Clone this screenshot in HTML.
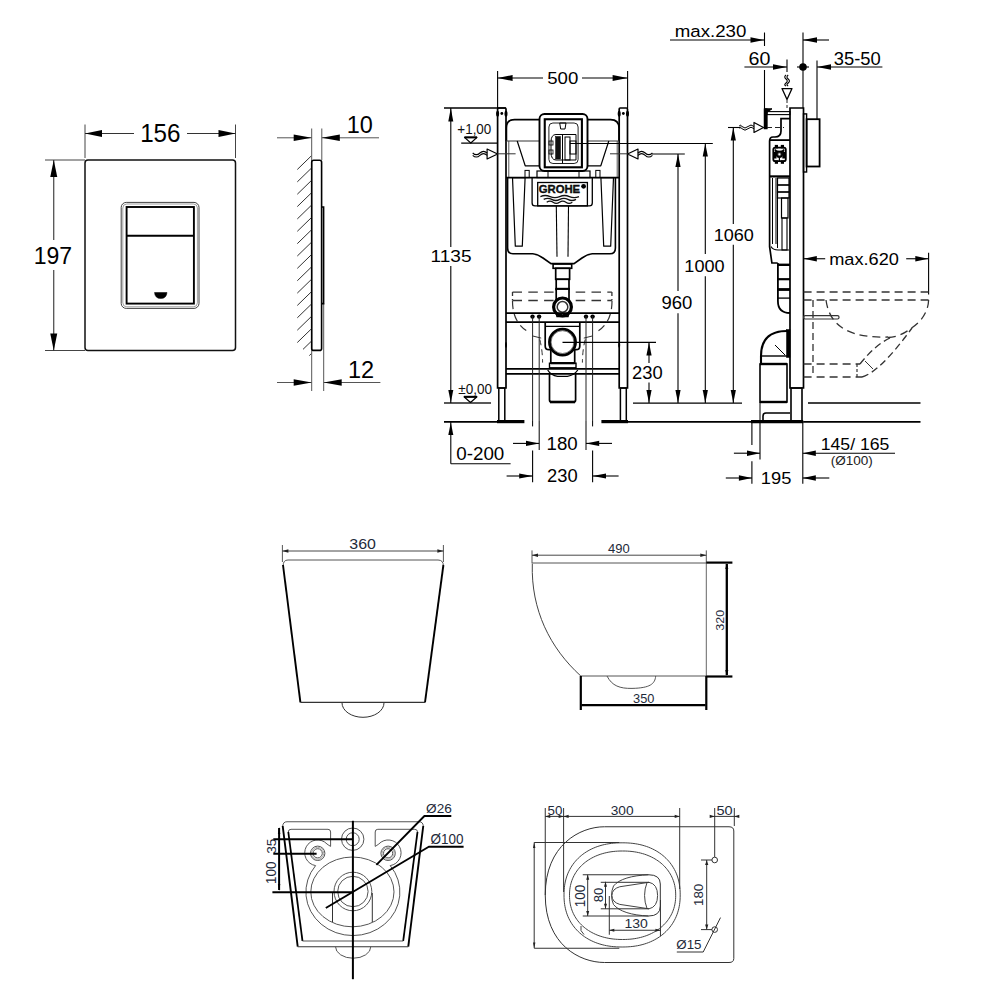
<!DOCTYPE html>
<html><head><meta charset="utf-8"><style>
html,body{margin:0;padding:0;background:#fff;width:1000px;height:1000px;overflow:hidden}
svg{display:block}
text{font-family:"Liberation Sans",sans-serif}
</style></head><body>
<svg width="1000" height="1000" viewBox="0 0 1000 1000">
<rect x="85" y="160" width="150.5" height="190.5" rx="3" stroke="#111" stroke-width="1.5" fill="none" />
<rect x="121.2" y="202.4" width="77.8" height="106" rx="5" stroke="#444" stroke-width="1" fill="none" />
<rect x="122.8" y="204" width="74.6" height="102.8" rx="4" stroke="#777" stroke-width="0.7" fill="none" />
<rect x="126.6" y="207" width="67.3" height="96.6" rx="0" stroke="#000" stroke-width="1.9" fill="none" />
<line x1="126.6" y1="235.8" x2="193.9" y2="235.8" stroke="#000" stroke-width="2" />
<path d="M154.5,292.5 L167,292.5 Q166.5,298.5 160.7,298.5 Q155,298.5 154.5,292.5 Z" stroke="#000" stroke-width="0.5" fill="#000" />
<line x1="85" y1="124.5" x2="85" y2="158" stroke="#444" stroke-width="1" />
<line x1="235.5" y1="124.5" x2="235.5" y2="158" stroke="#444" stroke-width="1" />
<line x1="85" y1="133.5" x2="134" y2="133.5" stroke="#333" stroke-width="1.1" />
<line x1="187" y1="133.5" x2="235.5" y2="133.5" stroke="#333" stroke-width="1.1" />
<polygon points="85.00,133.50 102.00,130.00 102.00,137.00" fill="#000"/>
<polygon points="235.50,133.50 218.50,130.00 218.50,137.00" fill="#000"/>
<text x="140.16" y="141.58" font-size="24.86" textLength="40.41" lengthAdjust="spacingAndGlyphs" fill="#000" >156</text>
<line x1="45" y1="160" x2="85" y2="160" stroke="#444" stroke-width="1" />
<line x1="45" y1="350.5" x2="85" y2="350.5" stroke="#444" stroke-width="1" />
<line x1="53.75" y1="160" x2="53.75" y2="240" stroke="#333" stroke-width="1.1" />
<line x1="53.75" y1="270" x2="53.75" y2="350.5" stroke="#333" stroke-width="1.1" />
<polygon points="53.75,160.00 50.25,177.00 57.25,177.00" fill="#000"/>
<polygon points="53.75,350.50 50.25,333.50 57.25,333.50" fill="#000"/>
<text x="33.75" y="263.68" font-size="24.71" textLength="38.41" lengthAdjust="spacingAndGlyphs" fill="#000" >197</text>
<line x1="311.7" y1="128.5" x2="311.7" y2="391" stroke="#555" stroke-width="1" />
<line x1="321.8" y1="128.5" x2="321.8" y2="160" stroke="#555" stroke-width="1" />
<line x1="323.7" y1="303" x2="323.7" y2="391" stroke="#555" stroke-width="1" />
<rect x="311.7" y="160.3" width="9.9" height="190.1" rx="2" stroke="#000" stroke-width="1.6" fill="none" />
<path d="M321.8,207 L323.6,207 L323.6,303.6 L321.8,303.6" stroke="#000" stroke-width="1.6" fill="none" />
<line x1="297.3" y1="169.5" x2="311.2" y2="156" stroke="#333" stroke-width="1" />
<line x1="297.3" y1="181.86" x2="311.2" y2="168.36" stroke="#333" stroke-width="1" />
<line x1="297.3" y1="194.22" x2="311.2" y2="180.72" stroke="#333" stroke-width="1" />
<line x1="297.3" y1="206.58" x2="311.2" y2="193.08" stroke="#333" stroke-width="1" />
<line x1="297.3" y1="218.94" x2="311.2" y2="205.44" stroke="#333" stroke-width="1" />
<line x1="297.3" y1="231.3" x2="311.2" y2="217.8" stroke="#333" stroke-width="1" />
<line x1="297.3" y1="243.66" x2="311.2" y2="230.16" stroke="#333" stroke-width="1" />
<line x1="297.3" y1="256.02" x2="311.2" y2="242.52" stroke="#333" stroke-width="1" />
<line x1="297.3" y1="268.38" x2="311.2" y2="254.88" stroke="#333" stroke-width="1" />
<line x1="297.3" y1="280.74" x2="311.2" y2="267.24" stroke="#333" stroke-width="1" />
<line x1="297.3" y1="293.1" x2="311.2" y2="279.6" stroke="#333" stroke-width="1" />
<line x1="297.3" y1="305.46" x2="311.2" y2="291.96" stroke="#333" stroke-width="1" />
<line x1="297.3" y1="317.82" x2="311.2" y2="304.32" stroke="#333" stroke-width="1" />
<line x1="297.3" y1="330.18" x2="311.2" y2="316.68" stroke="#333" stroke-width="1" />
<line x1="297.3" y1="342.54" x2="311.2" y2="329.04" stroke="#333" stroke-width="1" />
<line x1="303" y1="349.36" x2="311.2" y2="341.4" stroke="#333" stroke-width="1" />
<line x1="309.3" y1="355.61" x2="311.2" y2="353.76" stroke="#333" stroke-width="1" />
<line x1="277" y1="137.8" x2="311.7" y2="137.8" stroke="#555" stroke-width="1" />
<polygon points="311.70,137.80 293.70,134.50 293.70,141.10" fill="#000"/>
<line x1="321.8" y1="137.8" x2="379" y2="137.8" stroke="#555" stroke-width="1" />
<polygon points="321.80,137.80 339.80,134.50 339.80,141.10" fill="#000"/>
<text x="346.81" y="133.28" font-size="24.00" textLength="26.10" lengthAdjust="spacingAndGlyphs" fill="#000" >10</text>
<line x1="277" y1="382.5" x2="311.7" y2="382.5" stroke="#555" stroke-width="1" />
<polygon points="311.70,382.50 293.70,379.20 293.70,385.80" fill="#000"/>
<line x1="323.7" y1="382.5" x2="380.4" y2="382.5" stroke="#555" stroke-width="1" />
<polygon points="323.70,382.50 341.70,379.20 341.70,385.80" fill="#000"/>
<text x="348.01" y="377.88" font-size="24.29" textLength="26.18" lengthAdjust="spacingAndGlyphs" fill="#000" >12</text>
<path d="M497.6,388 V109 Q497.6,108 498.6,108 H505 Q506,108 506,109 V388 Z" stroke="#000" stroke-width="1.7" fill="none" />
<rect x="498.8" y="388" width="6" height="33" rx="0" stroke="#000" stroke-width="1.5" fill="none" />
<circle cx="501.8" cy="113.5" r="1.4" stroke="#000" stroke-width="0" fill="#000" />
<ellipse cx="497.6" cy="113.8" rx="1.5" ry="3" stroke="#000" stroke-width="0" fill="#000" />
<ellipse cx="506" cy="113.8" rx="1.5" ry="3" stroke="#000" stroke-width="0" fill="#000" />
<ellipse cx="506" cy="345" rx="1" ry="3" stroke="#000" stroke-width="0" fill="#000" />
<path d="M619.2,388 V109 Q619.2,108 620.2,108 H626.5 Q627.5,108 627.5,109 V388 Z" stroke="#000" stroke-width="1.7" fill="none" />
<rect x="620.4" y="388" width="5.9" height="33" rx="0" stroke="#000" stroke-width="1.5" fill="none" />
<circle cx="623.35" cy="113.5" r="1.4" stroke="#000" stroke-width="0" fill="#000" />
<ellipse cx="619.2" cy="113.8" rx="1.5" ry="3" stroke="#000" stroke-width="0" fill="#000" />
<ellipse cx="627.5" cy="113.8" rx="1.5" ry="3" stroke="#000" stroke-width="0" fill="#000" />
<ellipse cx="619.2" cy="345" rx="1" ry="3" stroke="#000" stroke-width="0" fill="#000" />
<path d="M506.4,141 V128 Q506.4,119.6 514.5,119.6 H539.5" stroke="#000" stroke-width="1.7" fill="none" />
<path d="M587.5,119.6 H610.5 Q619,119.6 619,128 V141" stroke="#000" stroke-width="1.7" fill="none" />
<line x1="506" y1="141" x2="539.5" y2="141" stroke="#333" stroke-width="1" />
<line x1="587.5" y1="141" x2="619" y2="141" stroke="#333" stroke-width="1" />
<polyline points="517.2,141 525.2,165.8 539.5,165.8" stroke="#000" stroke-width="1.2" fill="none" stroke-linejoin="round" />
<polyline points="608.8,141 600.8,165.8 587.5,165.8" stroke="#000" stroke-width="1.2" fill="none" stroke-linejoin="round" />
<line x1="508.8" y1="141" x2="508.8" y2="177" stroke="#444" stroke-width="0.9" />
<line x1="617.2" y1="141" x2="617.2" y2="177" stroke="#444" stroke-width="0.9" />
<rect x="525" y="170.4" width="4.2" height="7.2" rx="0" stroke="#000" stroke-width="1" fill="none" />
<rect x="595.8" y="170.4" width="4.2" height="7.2" rx="0" stroke="#000" stroke-width="1" fill="none" />
<rect x="539.5" y="114" width="48" height="57" rx="5" stroke="#000" stroke-width="1.9" fill="none" />
<rect x="544.75" y="119.25" width="37.15" height="48.05" rx="0" stroke="#000" stroke-width="2.1" fill="none" />
<rect x="548.9" y="123" width="29.2" height="40.5" rx="4" stroke="#222" stroke-width="1" fill="none" />
<polygon points="559.7,123 566,123 565,129 560.7,129" stroke="#000" stroke-width="1" fill="none" stroke-linejoin="round" />
<path d="M556,134.5 H576 V160 H556 Q551,160 551,152 V142 Q551,134.5 556,134.5 Z" stroke="#000" stroke-width="1" fill="none" />
<rect x="555.6" y="136.5" width="4.9" height="22.5" rx="0" stroke="#000" stroke-width="0.5" fill="#111" />
<line x1="562.5" y1="134.5" x2="562.5" y2="163.5" stroke="#000" stroke-width="1" />
<rect x="565" y="137" width="5" height="23" rx="0" stroke="#000" stroke-width="1" fill="none" />
<rect x="570" y="141" width="6" height="13" rx="0" stroke="#000" stroke-width="1" fill="none" />
<rect x="549" y="141" width="4" height="4" rx="0" stroke="#000" stroke-width="0.8" fill="none" />
<rect x="549" y="150" width="4" height="4" rx="0" stroke="#000" stroke-width="0.8" fill="none" />
<rect x="537" y="171" width="53" height="6.6" rx="0" stroke="#000" stroke-width="1.2" fill="none" />
<line x1="548" y1="171" x2="548" y2="177.6" stroke="#000" stroke-width="1" />
<line x1="579" y1="171" x2="579" y2="177.6" stroke="#000" stroke-width="1" />
<line x1="506" y1="177.6" x2="619" y2="177.6" stroke="#000" stroke-width="1.7" />
<path d="M507.6,177.6 V248 Q507.6,253.8 513,253.8 H532.8 Q538,254.5 543,258 L551,263.6 H574 L582,258 Q587,254.5 592.2,253.8 H610 Q615.4,253.8 615.4,248 V177.6" stroke="#000" stroke-width="1.6" fill="none" />
<polygon points="512.5,177.6 515.3,246.2 522.3,246.2 525.1,177.6" stroke="#000" stroke-width="1.2" fill="none" stroke-linejoin="round" />
<polygon points="600.9,177.6 603.7,246.2 610.7,246.2 613.5,177.6" stroke="#000" stroke-width="1.2" fill="none" stroke-linejoin="round" />
<path d="M532.1,177.6 V203 Q532.1,205.9 535,205.9 H589.4 Q592.3,205.9 592.3,203 V177.6" stroke="#000" stroke-width="1.3" fill="none" />
<rect x="537.7" y="182.5" width="49.7" height="23.4" rx="0" stroke="#000" stroke-width="1.3" fill="none" />
<text x="538.73" y="193.45" font-size="10.97" textLength="41.45" lengthAdjust="spacingAndGlyphs" fill="#111" font-weight="bold" stroke="#000" stroke-width="0.35">GROHE</text>
<circle cx="583.6" cy="186.3" r="2.4" stroke="#000" stroke-width="0" fill="#000" />
<path d="M540.4,196.6 q4.825000000000003,-2.2 9.650000000000006,0 t9.650000000000006,0 t9.650000000000006,0 t9.650000000000006,0" stroke="#111" stroke-width="1.3" fill="none" />
<path d="M543.7,199.4 q4.037499999999994,-2.2 8.074999999999989,0 t8.074999999999989,0 t8.074999999999989,0 t8.074999999999989,0" stroke="#111" stroke-width="1.3" fill="none" />
<path d="M546.7,202.2 q3.1999999999999886,-2.2 6.399999999999977,0 t6.399999999999977,0 t6.399999999999977,0 t6.399999999999977,0" stroke="#111" stroke-width="1.3" fill="none" />
<line x1="556.3" y1="205.9" x2="557" y2="256.7" stroke="#000" stroke-width="1.1" />
<line x1="568.5" y1="205.9" x2="568" y2="256.7" stroke="#000" stroke-width="1.1" />
<line x1="512.5" y1="292.1" x2="611.9" y2="292.1" stroke="#333" stroke-width="1.3" stroke-dasharray="9.5 6.3" />
<line x1="512.5" y1="300.5" x2="611.9" y2="300.5" stroke="#333" stroke-width="1.3" stroke-dasharray="9.5 6.3" />
<line x1="512.5" y1="292.1" x2="512.5" y2="300.5" stroke="#333" stroke-width="1.3" stroke-dasharray="4 3" />
<line x1="611.9" y1="292.1" x2="611.9" y2="300.5" stroke="#333" stroke-width="1.3" stroke-dasharray="4 3" />
<path d="M512.5,301 Q512.5,322 527,331" stroke="#333" stroke-width="1.2" fill="none" stroke-dasharray="8 5"/>
<path d="M612,301 Q612,322 598,331" stroke="#333" stroke-width="1.2" fill="none" stroke-dasharray="8 5"/>
<line x1="532.8" y1="336" x2="541.2" y2="338.1" stroke="#333" stroke-width="1" />
<line x1="592.2" y1="336" x2="583.8" y2="338.1" stroke="#333" stroke-width="1" />
<path d="M539.8,339.5 Q542.5,350 542.6,362.6" stroke="#333" stroke-width="1" fill="none" stroke-dasharray="6 4"/>
<path d="M585.2,339.5 Q582.5,350 582.4,362.6" stroke="#333" stroke-width="1" fill="none" stroke-dasharray="6 4"/>
<rect x="553.1" y="264.1" width="18.6" height="4.2" rx="0" stroke="#000" stroke-width="1.6" fill="#fff" />
<rect x="555.7" y="268.3" width="13.9" height="11" rx="0" stroke="#000" stroke-width="1.7" fill="#fff" />
<rect x="556.2" y="279.3" width="12.8" height="9.8" rx="0" stroke="#000" stroke-width="1.7" fill="#fff" />
<line x1="555.5" y1="289.1" x2="569.6" y2="289.1" stroke="#000" stroke-width="2.6" />
<rect x="556.2" y="289.1" width="12.8" height="10.9" rx="0" stroke="#000" stroke-width="1.7" fill="#fff" />
<path d="M556.2,313 L557,316.4 H568 L568.8,313" stroke="#000" stroke-width="1.5" fill="#fff" />
<circle cx="562.5" cy="306.9" r="8.9" stroke="#000" stroke-width="3.2" fill="#fff" />
<circle cx="562.5" cy="306.9" r="5.3" stroke="#333" stroke-width="1.5" fill="#fff" />
<line x1="506" y1="313.1" x2="619" y2="313.1" stroke="#000" stroke-width="1.7" />
<line x1="506" y1="322.2" x2="619" y2="322.2" stroke="#000" stroke-width="1.7" />
<line x1="506" y1="368.9" x2="619" y2="368.9" stroke="#000" stroke-width="1.7" />
<line x1="506" y1="373.8" x2="619" y2="373.8" stroke="#000" stroke-width="1.7" />
<circle cx="532.5" cy="316.6" r="2.2" stroke="#000" stroke-width="0" fill="#000" />
<circle cx="539.1" cy="316.6" r="2.2" stroke="#000" stroke-width="0" fill="#000" />
<circle cx="586" cy="316.6" r="2.2" stroke="#000" stroke-width="0" fill="#000" />
<circle cx="592.6" cy="316.6" r="2.2" stroke="#000" stroke-width="0" fill="#000" />
<line x1="532.6" y1="316" x2="532.6" y2="421" stroke="#222" stroke-width="1" />
<line x1="539.2" y1="316" x2="539.2" y2="421" stroke="#222" stroke-width="1" />
<line x1="586" y1="316" x2="586" y2="421" stroke="#222" stroke-width="1" />
<line x1="592.6" y1="316" x2="592.6" y2="421" stroke="#222" stroke-width="1" />
<path d="M545.2,322.5 V346 Q545.2,349.7 549,349.7 H551 M579.8,322.5 V346 Q579.8,349.7 576,349.7 H574.5" stroke="#000" stroke-width="1.7" fill="none" />
<line x1="545.2" y1="326.3" x2="579.8" y2="326.3" stroke="#000" stroke-width="1.2" />
<path d="M550.8,349 V363.2 H574.7 V349" stroke="#000" stroke-width="1.7" fill="none" />
<line x1="550.8" y1="363.2" x2="574.7" y2="363.2" stroke="#000" stroke-width="2.2" />
<rect x="549.5" y="363.2" width="26.5" height="4.6" rx="0" stroke="#000" stroke-width="1.4" fill="none" />
<path d="M547.7,370 Q551,375.5 557.6,376.3 H567.4 Q574,375.5 577.8,370" stroke="#000" stroke-width="1.3" fill="none" />
<circle cx="562.5" cy="342.1" r="13" stroke="#000" stroke-width="2.9" fill="#fff" />
<circle cx="562.5" cy="342.1" r="11.4" stroke="#555" stroke-width="0.8" fill="none" />
<path d="M549.5,374 V400 Q549.5,402 551.5,402 H573.6 Q575.6,402 575.6,400 V374" stroke="#000" stroke-width="1.7" fill="none" />
<line x1="550" y1="402" x2="575" y2="402" stroke="#000" stroke-width="2.6" />
<line x1="444" y1="421.8" x2="497" y2="421.8" stroke="#000" stroke-width="1.8" />
<line x1="497" y1="421.6" x2="524.4" y2="421.6" stroke="#000" stroke-width="3.2" />
<line x1="601.4" y1="421.6" x2="628" y2="421.6" stroke="#000" stroke-width="3.2" />
<line x1="628" y1="421.8" x2="751" y2="421.8" stroke="#000" stroke-width="1.8" />
<line x1="751" y1="421.6" x2="803.2" y2="421.6" stroke="#000" stroke-width="3.2" />
<line x1="803.2" y1="421.8" x2="920.5" y2="421.8" stroke="#000" stroke-width="1.8" />
<line x1="444" y1="403" x2="491" y2="403" stroke="#222" stroke-width="1.3" />
<line x1="633" y1="403.2" x2="742" y2="403.2" stroke="#000" stroke-width="1.3" />
<line x1="808" y1="403" x2="920.5" y2="403" stroke="#000" stroke-width="1.3" />
<line x1="497.6" y1="71" x2="497.6" y2="108" stroke="#000" stroke-width="1.1" />
<line x1="627.6" y1="71" x2="627.6" y2="108" stroke="#000" stroke-width="1.1" />
<line x1="497.6" y1="78" x2="543" y2="78" stroke="#000" stroke-width="1.1" />
<line x1="582" y1="78" x2="627.6" y2="78" stroke="#000" stroke-width="1.1" />
<polygon points="497.60,78.00 512.60,75.00 512.60,81.00" fill="#000"/>
<polygon points="627.60,78.00 612.60,75.00 612.60,81.00" fill="#000"/>
<text x="547.25" y="84.31" font-size="17.14" textLength="31.07" lengthAdjust="spacingAndGlyphs" fill="#000" >500</text>
<line x1="444" y1="108" x2="506" y2="108" stroke="#000" stroke-width="1.3" />
<line x1="450.8" y1="108" x2="450.8" y2="247" stroke="#000" stroke-width="1.1" />
<line x1="450.8" y1="266" x2="450.8" y2="403" stroke="#000" stroke-width="1.1" />
<polygon points="450.80,108.00 448.30,121.60 453.30,121.60" fill="#000"/>
<polygon points="450.80,402.50 448.30,390.00 453.30,390.00" fill="#000"/>
<text x="430.60" y="261.91" font-size="17.14" textLength="40.98" lengthAdjust="spacingAndGlyphs" fill="#000" >1135</text>
<text x="457.34" y="134.33" font-size="13.91" textLength="33.98" lengthAdjust="spacingAndGlyphs" fill="#111" >+1,00</text>
<polygon points="464.5,137.4 477,137.4 470.8,143" stroke="#000" stroke-width="1.2" fill="none" stroke-linejoin="round" />
<line x1="464.5" y1="137.4" x2="477" y2="137.4" stroke="#000" stroke-width="2" />
<line x1="461.2" y1="143.2" x2="497.6" y2="143.2" stroke="#000" stroke-width="1.2" />
<text x="458.37" y="393.53" font-size="13.91" textLength="33.76" lengthAdjust="spacingAndGlyphs" fill="#111" >±0,00</text>
<polygon points="464,396.8 477,396.8 470.5,402.5" stroke="#000" stroke-width="1.2" fill="none" stroke-linejoin="round" />
<line x1="464" y1="396.8" x2="477" y2="396.8" stroke="#000" stroke-width="2" />
<line x1="450.8" y1="422" x2="450.8" y2="463.7" stroke="#000" stroke-width="1.1" />
<polygon points="450.80,422.50 448.30,435.00 453.30,435.00" fill="#000"/>
<line x1="450.8" y1="463.7" x2="510.6" y2="463.7" stroke="#000" stroke-width="1.1" />
<text x="456.27" y="460.41" font-size="17.86" textLength="48.07" lengthAdjust="spacingAndGlyphs" fill="#000" >0-200</text>
<line x1="513" y1="443.4" x2="539.2" y2="443.4" stroke="#000" stroke-width="1.1" />
<polygon points="539.20,443.40 526.00,440.80 526.00,446.00" fill="#000"/>
<line x1="586" y1="443.4" x2="612" y2="443.4" stroke="#000" stroke-width="1.1" />
<polygon points="586.00,443.40 599.20,440.80 599.20,446.00" fill="#000"/>
<text x="546.58" y="449.91" font-size="17.57" textLength="31.15" lengthAdjust="spacingAndGlyphs" fill="#000" >180</text>
<line x1="539.2" y1="421" x2="539.2" y2="450" stroke="#000" stroke-width="1" />
<line x1="586" y1="421" x2="586" y2="450" stroke="#000" stroke-width="1" />
<line x1="532.6" y1="421" x2="532.6" y2="426.4" stroke="#000" stroke-width="1" />
<line x1="592.6" y1="421" x2="592.6" y2="426.4" stroke="#000" stroke-width="1" />
<line x1="532.6" y1="450.4" x2="532.6" y2="482.2" stroke="#000" stroke-width="1.1" />
<line x1="592.6" y1="450.4" x2="592.6" y2="482.2" stroke="#000" stroke-width="1.1" />
<line x1="506.6" y1="476" x2="532.6" y2="476" stroke="#000" stroke-width="1.1" />
<polygon points="532.60,476.00 519.20,473.40 519.20,478.60" fill="#000"/>
<line x1="592.6" y1="476" x2="618.6" y2="476" stroke="#000" stroke-width="1.1" />
<polygon points="592.60,476.00 606.00,473.40 606.00,478.60" fill="#000"/>
<text x="547.08" y="482.31" font-size="17.71" textLength="30.64" lengthAdjust="spacingAndGlyphs" fill="#000" >230</text>
<polygon points="497.6,154 487.1,149 487.1,159" stroke="#000" stroke-width="1.2" fill="#fff" stroke-linejoin="round" />
<path d="M487.1,153 q-3.6,-3.4 -7.2,0 t-7.2,0 M487.1,155.3 q-3.6,-3.4 -7.2,0 t-7.2,0" stroke="#000" stroke-width="1.1" fill="none" />
<polygon points="627.5,154 638,149 638,159" stroke="#000" stroke-width="1.2" fill="#fff" stroke-linejoin="round" />
<path d="M638.0,153 q3.6,-3.4 7.2,0 t7.2,0 M638.0,155.3 q3.6,-3.4 7.2,0 t7.2,0" stroke="#000" stroke-width="1.1" fill="none" />
<line x1="497.6" y1="153.8" x2="515.6" y2="153.8" stroke="#333" stroke-width="1" />
<line x1="610" y1="153.8" x2="627.5" y2="153.8" stroke="#333" stroke-width="1" />
<line x1="562.5" y1="342.4" x2="656" y2="342.4" stroke="#000" stroke-width="1.1" />
<line x1="649" y1="342.4" x2="649" y2="363" stroke="#000" stroke-width="1.1" />
<line x1="649" y1="382.5" x2="649" y2="403" stroke="#000" stroke-width="1.1" />
<polygon points="649.00,342.40 646.40,355.40 651.60,355.40" fill="#000"/>
<polygon points="649.00,403.00 646.40,390.00 651.60,390.00" fill="#000"/>
<text x="632.08" y="379.31" font-size="18.57" textLength="30.64" lengthAdjust="spacingAndGlyphs" fill="#000" >230</text>
<line x1="652" y1="154" x2="684.8" y2="154" stroke="#000" stroke-width="1.1" />
<line x1="678" y1="154" x2="678" y2="291" stroke="#000" stroke-width="1.1" />
<line x1="678" y1="313.3" x2="678" y2="403" stroke="#000" stroke-width="1.1" />
<polygon points="678.00,154.00 675.40,167.00 680.60,167.00" fill="#000"/>
<polygon points="678.00,403.00 675.40,390.00 680.60,390.00" fill="#000"/>
<text x="661.43" y="308.81" font-size="18.57" textLength="30.89" lengthAdjust="spacingAndGlyphs" fill="#000" >960</text>
<line x1="570" y1="143.5" x2="712.8" y2="143.5" stroke="#000" stroke-width="1.1" />
<line x1="705.3" y1="143.5" x2="705.3" y2="254" stroke="#000" stroke-width="1.1" />
<line x1="705.3" y1="276.3" x2="705.3" y2="403" stroke="#000" stroke-width="1.1" />
<polygon points="705.30,143.50 702.70,156.50 707.90,156.50" fill="#000"/>
<polygon points="705.30,403.00 702.70,390.00 707.90,390.00" fill="#000"/>
<text x="684.37" y="271.82" font-size="16.71" textLength="40.23" lengthAdjust="spacingAndGlyphs" fill="#000" >1000</text>
<line x1="728" y1="127.5" x2="740" y2="127.5" stroke="#000" stroke-width="1.1" />
<line x1="733.3" y1="127.5" x2="733.3" y2="223.9" stroke="#000" stroke-width="1.1" />
<line x1="733.3" y1="244.8" x2="733.3" y2="403" stroke="#000" stroke-width="1.1" />
<polygon points="733.30,127.50 730.70,140.50 735.90,140.50" fill="#000"/>
<polygon points="733.30,403.00 730.70,390.00 735.90,390.00" fill="#000"/>
<text x="713.72" y="240.82" font-size="16.43" textLength="40.18" lengthAdjust="spacingAndGlyphs" fill="#000" >1060</text>
<path d="M790,388 V108 H803.5 V388 Z" stroke="#000" stroke-width="1.7" fill="none" />
<rect x="791" y="388" width="11" height="33" rx="0" stroke="#000" stroke-width="1.6" fill="none" />
<rect x="803.5" y="113.9" width="3.1" height="58.1" rx="0" stroke="#000" stroke-width="1.4" fill="none" />
<rect x="806.6" y="119.2" width="13" height="47.3" rx="0" stroke="#000" stroke-width="1.8" fill="none" />
<path d="M790,118.6 H781 V131 Q781,137 775,137 H773 Q769.6,137 769.6,141 V246.7 L771.9,263 H777.7" stroke="#000" stroke-width="1.7" fill="none" />
<line x1="769.6" y1="140.1" x2="790" y2="140.1" stroke="#000" stroke-width="1.8" />
<line x1="769.6" y1="176.4" x2="790" y2="176.4" stroke="#000" stroke-width="2.2" />
<rect x="773.3" y="147.6" width="12.5" height="13.6" rx="2" stroke="#000" stroke-width="1.8" fill="none" />
<rect x="774.8" y="144.9" width="3.2" height="3.5" rx="0" stroke="#000" stroke-width="0" fill="#000" />
<rect x="774.8" y="160.4" width="3.2" height="3.4" rx="0" stroke="#000" stroke-width="0" fill="#000" />
<rect x="780.8" y="144.9" width="3.2" height="3.5" rx="0" stroke="#000" stroke-width="0" fill="#000" />
<rect x="780.8" y="160.4" width="3.2" height="3.4" rx="0" stroke="#000" stroke-width="0" fill="#000" />
<path d="M775,149.5 Q779.4,153 784,149.5 L784,151.5 Q779.4,155 775,151.5 Z" stroke="#000" stroke-width="0.8" fill="#000" />
<rect x="773.8" y="152" width="2.7" height="6.5" rx="0" stroke="#000" stroke-width="0" fill="#000" />
<rect x="782.3" y="152" width="2.7" height="6.5" rx="0" stroke="#000" stroke-width="0" fill="#000" />
<circle cx="779.4" cy="154.3" r="2.8" stroke="#000" stroke-width="1.6" fill="#444" />
<circle cx="779.4" cy="154.3" r="1.1" stroke="#000" stroke-width="0" fill="#fff" />
<line x1="779.4" y1="157" x2="779.4" y2="161" stroke="#000" stroke-width="1.2" />
<line x1="772.5" y1="178" x2="772.5" y2="244" stroke="#000" stroke-width="1" />
<line x1="776" y1="178" x2="776" y2="244" stroke="#000" stroke-width="1" />
<rect x="777.5" y="178" width="11.5" height="7" rx="0" stroke="#000" stroke-width="1.2" fill="none" />
<rect x="777.5" y="185" width="11.5" height="7" rx="0" stroke="#000" stroke-width="1.2" fill="none" />
<rect x="777.5" y="192" width="11.5" height="6" rx="0" stroke="#000" stroke-width="1.2" fill="none" />
<rect x="781.5" y="198" width="6.5" height="20" rx="0" stroke="#000" stroke-width="1.2" fill="none" />
<rect x="782" y="218" width="5" height="32" rx="0" stroke="#000" stroke-width="1.1" fill="none" />
<line x1="777.5" y1="198" x2="777.5" y2="248" stroke="#000" stroke-width="1" />
<path d="M771,246.5 Q773,250 778,250 H789" stroke="#000" stroke-width="1.2" fill="none" />
<path d="M777.9,263 V301 Q777.9,313 790,313" stroke="#000" stroke-width="1.8" fill="none" />
<line x1="777.9" y1="264.8" x2="790" y2="264.8" stroke="#000" stroke-width="2.4" />
<line x1="777.9" y1="279.2" x2="790" y2="279.2" stroke="#000" stroke-width="2.2" />
<line x1="777.9" y1="289.5" x2="790" y2="289.5" stroke="#000" stroke-width="2.8" />
<line x1="777.9" y1="298.1" x2="790" y2="298.1" stroke="#000" stroke-width="1.3" />
<path d="M761,364 V356 Q761,331 787,331" stroke="#000" stroke-width="2.1" fill="none" />
<line x1="761" y1="356" x2="787" y2="356" stroke="#000" stroke-width="1.4" />
<line x1="775" y1="345" x2="785" y2="355" stroke="#000" stroke-width="1" />
<rect x="786.5" y="329.5" width="3.5" height="28" rx="0" stroke="#000" stroke-width="0.5" fill="#000" />
<rect x="760" y="364" width="27" height="38" rx="0" stroke="#000" stroke-width="1.6" fill="none" />
<line x1="760" y1="364" x2="787" y2="364" stroke="#000" stroke-width="2.4" />
<line x1="760" y1="402" x2="787" y2="402" stroke="#000" stroke-width="2.4" />
<path d="M763,421 V416 Q763,413 766,413 H790" stroke="#000" stroke-width="1.6" fill="none" />
<line x1="760" y1="402" x2="760" y2="421" stroke="#000" stroke-width="1" />
<rect x="764" y="108.8" width="3.3" height="20.2" rx="0" stroke="#000" stroke-width="0.5" fill="#000" />
<path d="M764,108.8 H772 L767.5,112 Z" stroke="#000" stroke-width="1" fill="#000" />
<rect x="767" y="111.6" width="23" height="3" rx="0" stroke="#000" stroke-width="1.1" fill="none" />
<line x1="764.5" y1="32.5" x2="764.5" y2="46" stroke="#000" stroke-width="1.1" />
<line x1="764.5" y1="70" x2="764.5" y2="108.8" stroke="#000" stroke-width="1.1" />
<line x1="670" y1="40" x2="764.5" y2="40" stroke="#000" stroke-width="1.1" />
<polygon points="764.50,40.00 750.50,37.20 750.50,42.80" fill="#000"/>
<text x="674.76" y="36.91" font-size="17.14" textLength="71.57" lengthAdjust="spacingAndGlyphs" fill="#000" >max.230</text>
<line x1="803" y1="32.5" x2="803" y2="108" stroke="#000" stroke-width="1.1" />
<line x1="803" y1="40" x2="829" y2="40" stroke="#000" stroke-width="1.1" />
<polygon points="803.00,40.00 817.00,37.20 817.00,42.80" fill="#000"/>
<line x1="744.4" y1="67" x2="787" y2="67" stroke="#000" stroke-width="1.1" />
<polygon points="787.00,67.00 773.00,64.20 773.00,69.80" fill="#000"/>
<text x="748.50" y="64.91" font-size="18.00" textLength="21.87" lengthAdjust="spacingAndGlyphs" fill="#000" >60</text>
<line x1="787" y1="59.4" x2="787" y2="72" stroke="#000" stroke-width="1.1" />
<line x1="787" y1="100" x2="787" y2="108" stroke="#222" stroke-width="1" stroke-dasharray="3 2" />
<circle cx="803" cy="67" r="3.8" stroke="#000" stroke-width="0" fill="#000" />
<line x1="797" y1="67" x2="809" y2="67" stroke="#000" stroke-width="1.1" />
<line x1="817" y1="60.6" x2="817" y2="119.2" stroke="#000" stroke-width="1.1" />
<line x1="817" y1="67" x2="882.4" y2="67" stroke="#000" stroke-width="1.1" />
<polygon points="817.00,67.00 831.00,64.20 831.00,69.80" fill="#000"/>
<text x="833.70" y="64.91" font-size="18.00" textLength="47.02" lengthAdjust="spacingAndGlyphs" fill="#000" >35-50</text>
<path d="M786,75 q-2.5,2 0,4 t0,4 t0,3 M788.2,75 q-2.5,2 0,4 t0,4 t0,3" stroke="#000" stroke-width="1.1" fill="none" />
<polygon points="782,88.6 792,88.6 787,99.5" stroke="#000" stroke-width="1.3" fill="#fff" stroke-linejoin="round" />
<polygon points="763.5,127.5 754,122.5 754,132.5" stroke="#000" stroke-width="1.2" fill="#fff" stroke-linejoin="round" />
<path d="M754,126.5 q-3,-3 -6,0 t-6,0 t-2,0 M754,128.7 q-3,-3 -6,0 t-6,0 t-2,0" stroke="#000" stroke-width="1" fill="none" />
<line x1="767" y1="127.5" x2="784" y2="127.5" stroke="#222" stroke-width="1" stroke-dasharray="5 3" />
<line x1="803.8" y1="258.75" x2="825.2" y2="258.75" stroke="#000" stroke-width="1.1" />
<polygon points="803.80,258.75 816.80,255.95 816.80,261.55" fill="#000"/>
<line x1="906.2" y1="258.75" x2="928.3" y2="258.75" stroke="#000" stroke-width="1.1" />
<polygon points="928.30,258.75 915.30,255.95 915.30,261.55" fill="#000"/>
<line x1="928.6" y1="252.7" x2="928.6" y2="294.6" stroke="#000" stroke-width="1.1" />
<text x="829.19" y="265.12" font-size="16.86" textLength="69.72" lengthAdjust="spacingAndGlyphs" fill="#000" >max.620</text>
<line x1="803.6" y1="292" x2="928.6" y2="292" stroke="#333" stroke-width="1.3" stroke-dasharray="8 5" />
<line x1="803.6" y1="300" x2="928.6" y2="300" stroke="#333" stroke-width="1.3" stroke-dasharray="8 5" />
<path d="M928.6,300 C928.3,312 921,322 911.5,328 C905,333 898,337 888,337.5" stroke="#333" stroke-width="1.3" fill="none" stroke-dasharray="8 5"/>
<path d="M826,300 C830,330 855,338 888,337" stroke="#333" stroke-width="1.3" fill="none" stroke-dasharray="8 5"/>
<line x1="813" y1="300" x2="813" y2="377" stroke="#333" stroke-width="1.3" stroke-dasharray="7 4" />
<line x1="803.6" y1="364" x2="860" y2="364" stroke="#333" stroke-width="1.3" stroke-dasharray="8 5" />
<line x1="803.6" y1="377" x2="862" y2="377" stroke="#333" stroke-width="1.3" stroke-dasharray="8 5" />
<path d="M860,364 Q875,345 890,338" stroke="#333" stroke-width="1.3" fill="none" stroke-dasharray="7 4"/>
<path d="M862,377 Q880,372 912,328" stroke="#333" stroke-width="1.3" fill="none" stroke-dasharray="7 4"/>
<line x1="857" y1="364" x2="857" y2="377" stroke="#333" stroke-width="1.2" stroke-dasharray="3 2" />
<line x1="865" y1="361" x2="873" y2="369" stroke="#333" stroke-width="1" />
<rect x="803.6" y="315.6" width="35.4" height="3.4" rx="1.5" stroke="#333" stroke-width="1.2" fill="none" />
<line x1="751.9" y1="421" x2="751.9" y2="445" stroke="#000" stroke-width="1.1" />
<line x1="751.9" y1="461.3" x2="751.9" y2="483.8" stroke="#000" stroke-width="1.1" />
<line x1="760" y1="421" x2="760" y2="459.5" stroke="#000" stroke-width="1.1" />
<line x1="802.8" y1="421" x2="802.8" y2="483.8" stroke="#000" stroke-width="1.1" />
<line x1="733.9" y1="453.2" x2="760" y2="453.2" stroke="#000" stroke-width="1.1" />
<polygon points="760.00,453.20 747.00,450.40 747.00,456.00" fill="#000"/>
<line x1="802.8" y1="453.2" x2="895" y2="453.2" stroke="#000" stroke-width="1.1" />
<polygon points="802.80,453.20 815.80,450.40 815.80,456.00" fill="#000"/>
<text x="820.76" y="449.91" font-size="17.29" textLength="68.69" lengthAdjust="spacingAndGlyphs" fill="#000" >145/ 165</text>
<text x="830.76" y="465.11" font-size="12.02" textLength="42.08" lengthAdjust="spacingAndGlyphs" fill="#222" >(Ø100)</text>
<line x1="725.8" y1="478" x2="751.9" y2="478" stroke="#000" stroke-width="1.1" />
<polygon points="751.90,478.00 738.90,475.20 738.90,480.80" fill="#000"/>
<line x1="802.8" y1="478" x2="829.3" y2="478" stroke="#000" stroke-width="1.1" />
<polygon points="802.80,478.00 815.80,475.20 815.80,480.80" fill="#000"/>
<text x="760.80" y="483.72" font-size="16.71" textLength="30.56" lengthAdjust="spacingAndGlyphs" fill="#000" >195</text>
<text x="349.39" y="548.92" font-size="15.00" textLength="26.63" lengthAdjust="spacingAndGlyphs" fill="#1e2a3a" >360</text>
<line x1="282.4" y1="545" x2="282.4" y2="562" stroke="#444" stroke-width="0.9" />
<line x1="443.4" y1="545" x2="443.4" y2="562" stroke="#444" stroke-width="0.9" />
<line x1="282.4" y1="551" x2="443.4" y2="551" stroke="#333" stroke-width="0.9" />
<polygon points="282.40,551.00 288.40,549.20 288.40,552.80" fill="#222"/>
<polygon points="443.40,551.00 437.40,549.20 437.40,552.80" fill="#222"/>
<path d="M283.2,566 Q283,560 288,560 H438 Q443.4,560 443.4,566" stroke="#555" stroke-width="1" fill="none" />
<line x1="283" y1="565" x2="300.4" y2="702.4" stroke="#000" stroke-width="1.9" />
<line x1="443.4" y1="565" x2="425" y2="702.4" stroke="#000" stroke-width="1.9" />
<line x1="300.4" y1="702.4" x2="425" y2="702.4" stroke="#333" stroke-width="1.2" />
<path d="M342,702.8 A21,14.5 0 0,0 384,702.8" stroke="#333" stroke-width="1" fill="none" />
<text x="608.10" y="553.24" font-size="12.43" textLength="21.71" lengthAdjust="spacingAndGlyphs" fill="#1e2a3a" >490</text>
<line x1="532" y1="550.4" x2="532" y2="563.5" stroke="#444" stroke-width="0.9" />
<line x1="706.3" y1="550.4" x2="706.3" y2="563" stroke="#444" stroke-width="0.9" />
<line x1="532" y1="555.2" x2="706.3" y2="555.2" stroke="#333" stroke-width="0.9" />
<polygon points="532.00,555.20 538.00,553.40 538.00,557.00" fill="#222"/>
<polygon points="706.30,555.20 700.30,553.40 700.30,557.00" fill="#222"/>
<line x1="532" y1="563" x2="706.3" y2="563" stroke="#555" stroke-width="1" />
<line x1="706.3" y1="563" x2="706.3" y2="676" stroke="#666" stroke-width="1" />
<line x1="580.8" y1="676" x2="706.3" y2="676" stroke="#555" stroke-width="1" />
<path d="M532.3,564 C531,610 550,648 580.8,676" stroke="#444" stroke-width="1" fill="none" />
<path d="M607,676 C612,686 620,688.6 632,688.4 C650,688 655,684 655.7,676" stroke="#555" stroke-width="1" fill="none" />
<line x1="706.3" y1="562.6" x2="732.4" y2="562.6" stroke="#000" stroke-width="2.2" />
<line x1="706.3" y1="676.5" x2="732.4" y2="676.5" stroke="#000" stroke-width="2.2" />
<line x1="726.8" y1="564" x2="726.8" y2="675" stroke="#000" stroke-width="2.3" />
<polygon points="726.8,563.4 725.3,569 728.3,569" stroke="#000" stroke-width="0" fill="#000" stroke-linejoin="round" />
<polygon points="726.8,675.7 725.3,670 728.3,670" stroke="#000" stroke-width="0" fill="#000" stroke-linejoin="round" />
<text transform="translate(723.95,630.20) rotate(-90)" x="-0.48" y="0" font-size="10.86" textLength="20.97" lengthAdjust="spacingAndGlyphs" fill="#1e2a3a" >320</text>
<line x1="580.8" y1="676" x2="580.8" y2="710" stroke="#000" stroke-width="2.2" />
<line x1="706.3" y1="676" x2="706.3" y2="710" stroke="#000" stroke-width="2.2" />
<line x1="581.5" y1="705.2" x2="705.6" y2="705.2" stroke="#000" stroke-width="2.3" />
<text x="633.11" y="702.74" font-size="12.29" textLength="21.39" lengthAdjust="spacingAndGlyphs" fill="#1e2a3a" >350</text>
<path d="M282.7,826.2 Q283,821.75 287,821.75 H419 Q423,821.75 423.25,826" stroke="#555" stroke-width="1" fill="none" />
<line x1="282.7" y1="826" x2="297.7" y2="946.7" stroke="#000" stroke-width="1.9" />
<line x1="423.25" y1="826" x2="408.25" y2="946.7" stroke="#000" stroke-width="1.9" />
<line x1="297.7" y1="946.7" x2="408.25" y2="946.7" stroke="#333" stroke-width="1.1" />
<path d="M288.3,832 Q288.3,829.3 291,829.3 H328 Q330.6,829.3 330.6,832 V846.4 Q329,845.5 327,844 A12.9,12.9 0 1,0 315.6,865.6" stroke="#555" stroke-width="1" fill="none" />
<path d="M417.5,832 Q417.5,829.3 414.8,829.3 H377.8 Q375.2,829.3 375.2,832 V846.4 Q376.8,845.5 378.8,844 A12.9,12.9 0 1,1 390.2,865.6" stroke="#555" stroke-width="1" fill="none" />
<line x1="288.3" y1="832" x2="302.5" y2="941" stroke="#000" stroke-width="1.8" />
<line x1="417.5" y1="832" x2="403.2" y2="941" stroke="#000" stroke-width="1.8" />
<line x1="302.5" y1="941" x2="403.2" y2="941" stroke="#555" stroke-width="1" />
<path d="M315.6,865.6 A47,43.5 0 1,0 390.2,865.6" stroke="#555" stroke-width="1" fill="none" />
<ellipse cx="352.4" cy="891.9" rx="41.6" ry="34.9" stroke="#555" stroke-width="1" fill="none" />
<ellipse cx="352.9" cy="891.5" rx="18.9" ry="19.3" stroke="#555" stroke-width="1" fill="none" />
<circle cx="352.9" cy="891.5" r="15.2" stroke="#555" stroke-width="1" fill="none" />
<line x1="332.5" y1="893" x2="332.5" y2="922" stroke="#333" stroke-width="1" />
<line x1="372.3" y1="893" x2="372.3" y2="922" stroke="#333" stroke-width="1" />
<circle cx="352.7" cy="839.2" r="11.2" stroke="#555" stroke-width="1" fill="none" />
<circle cx="352.7" cy="839.2" r="6.5" stroke="#555" stroke-width="1" fill="none" />
<circle cx="317.7" cy="853.3" r="7.2" stroke="#555" stroke-width="1" fill="none" />
<circle cx="317.7" cy="853.3" r="6" stroke="#888" stroke-width="0.7" fill="none" />
<circle cx="317.7" cy="853.3" r="4.6" stroke="#555" stroke-width="1" fill="none" />
<circle cx="388.1" cy="853.3" r="7.2" stroke="#555" stroke-width="1" fill="none" />
<circle cx="388.1" cy="853.3" r="6" stroke="#888" stroke-width="0.7" fill="none" />
<circle cx="388.1" cy="853.3" r="4.6" stroke="#555" stroke-width="1" fill="none" />
<path d="M335.5,946.7 A17.6,11.5 0 0,0 370.8,946.7" stroke="#555" stroke-width="1" fill="none" />
<line x1="352.9" y1="820.8" x2="352.9" y2="979.2" stroke="#000" stroke-width="2" />
<line x1="273.3" y1="839.2" x2="352.9" y2="839.2" stroke="#000" stroke-width="2" />
<line x1="273.3" y1="853.7" x2="316.6" y2="853.7" stroke="#000" stroke-width="2" />
<line x1="272.4" y1="892.2" x2="352.9" y2="892.2" stroke="#000" stroke-width="2" />
<line x1="279.1" y1="828" x2="279.1" y2="890" stroke="#000" stroke-width="2" />
<polygon points="279.1,826.9 277.9,834 280.3,834" stroke="#000" stroke-width="0" fill="#000" stroke-linejoin="round" />
<polygon points="279.1,891 277.9,884 280.3,884" stroke="#000" stroke-width="0" fill="#000" stroke-linejoin="round" />
<text transform="translate(275.73,853.30) rotate(-90)" x="-0.52" y="0" font-size="13.29" textLength="15.19" lengthAdjust="spacingAndGlyphs" fill="#1e2a3a" >35</text>
<text transform="translate(276.23,883.00) rotate(-90)" x="-1.02" y="0" font-size="14.00" textLength="22.34" lengthAdjust="spacingAndGlyphs" fill="#1e2a3a" >100</text>
<polyline points="325.8,908 428.8,846.8 463.6,846.8" stroke="#000" stroke-width="1.9" fill="none" stroke-linejoin="round" />
<polyline points="376.4,864.8 424.4,816 451.3,816" stroke="#000" stroke-width="1.9" fill="none" stroke-linejoin="round" />
<text x="426.13" y="812.54" font-size="12.86" textLength="25.77" lengthAdjust="spacingAndGlyphs" fill="#1e2a3a" >Ø26</text>
<text x="430.53" y="843.93" font-size="14.29" textLength="32.99" lengthAdjust="spacingAndGlyphs" fill="#1e2a3a" >Ø100</text>
<path d="M604.5,826.75 H729 Q733.8,826.75 733.8,831 V958.5 Q733.8,962.5 729,962.5 H604.5 C580,962.5 545.25,945 545.25,895 C545.25,845 580,826.75 604.5,826.75 Z" stroke="#333" stroke-width="1" fill="none" />
<polygon points="680.20,894.90 680.16,897.65 680.04,900.05 679.83,902.34 679.55,904.55 679.18,906.69 678.74,908.78 678.21,910.82 677.61,912.81 676.93,914.76 676.17,916.66 675.33,918.51 674.41,920.31 673.42,922.07 672.36,923.78 671.23,925.43 670.02,927.04 668.74,928.59 667.39,930.09 665.98,931.53 664.50,932.92 662.95,934.25 661.34,935.52 659.67,936.72 657.94,937.87 656.15,938.95 654.30,939.97 652.40,940.92 650.44,941.81 648.43,942.63 646.36,943.38 644.25,944.06 642.08,944.68 639.86,945.22 637.58,945.69 635.25,946.09 632.86,946.42 630.40,946.67 627.85,946.85 625.16,946.96 622.10,947.00 619.04,946.96 616.35,946.85 613.80,946.67 611.34,946.42 608.95,946.09 606.62,945.69 604.34,945.22 602.12,944.68 599.95,944.06 597.84,943.38 595.77,942.63 593.76,941.81 591.80,940.92 589.90,939.97 588.05,938.95 586.26,937.87 584.53,936.72 582.86,935.52 581.25,934.25 579.70,932.92 578.22,931.53 576.81,930.09 575.46,928.59 574.18,927.04 572.97,925.43 571.84,923.78 570.78,922.07 569.79,920.31 568.87,918.51 568.03,916.66 567.27,914.76 566.59,912.81 565.99,910.82 565.46,908.78 565.02,906.69 564.65,904.55 564.37,902.34 564.16,900.05 564.04,897.65 564.00,894.90 564.04,892.15 564.16,889.75 564.37,887.46 564.65,885.25 565.02,883.11 565.46,881.02 565.99,878.98 566.59,876.99 567.27,875.04 568.03,873.14 568.87,871.29 569.79,869.49 570.78,867.73 571.84,866.02 572.97,864.37 574.18,862.76 575.46,861.21 576.81,859.71 578.22,858.27 579.70,856.88 581.25,855.55 582.86,854.28 584.53,853.08 586.26,851.93 588.05,850.85 589.90,849.83 591.80,848.88 593.76,847.99 595.77,847.17 597.84,846.42 599.95,845.74 602.12,845.12 604.34,844.58 606.62,844.11 608.95,843.71 611.34,843.38 613.80,843.13 616.35,842.95 619.04,842.84 622.10,842.80 625.16,842.84 627.85,842.95 630.40,843.13 632.86,843.38 635.25,843.71 637.58,844.11 639.86,844.58 642.08,845.12 644.25,845.74 646.36,846.42 648.43,847.17 650.44,847.99 652.40,848.88 654.30,849.83 656.15,850.85 657.94,851.93 659.67,853.08 661.34,854.28 662.95,855.55 664.50,856.88 665.98,858.27 667.39,859.71 668.74,861.21 670.02,862.76 671.23,864.37 672.36,866.02 673.42,867.73 674.41,869.49 675.33,871.29 676.17,873.14 676.93,875.04 677.61,876.99 678.21,878.98 678.74,881.02 679.18,883.11 679.55,885.25 679.83,887.46 680.04,889.75 680.16,892.15" stroke="#444" stroke-width="1" fill="none" />
<polygon points="675.70,895.25 675.66,897.43 675.55,899.40 675.36,901.29 675.09,903.13 674.75,904.93 674.33,906.68 673.84,908.41 673.28,910.09 672.64,911.74 671.93,913.36 671.15,914.94 670.29,916.48 669.37,917.98 668.38,919.44 667.32,920.86 666.20,922.24 665.01,923.58 663.76,924.87 662.44,926.11 661.07,927.31 659.63,928.45 658.14,929.55 656.59,930.59 654.99,931.58 653.34,932.52 651.63,933.40 649.88,934.23 648.07,935.00 646.22,935.71 644.33,936.36 642.39,936.95 640.41,937.48 638.39,937.95 636.32,938.36 634.21,938.71 632.05,938.99 629.85,939.21 627.58,939.37 625.21,939.47 622.60,939.50 619.99,939.47 617.62,939.37 615.35,939.21 613.15,938.99 610.99,938.71 608.88,938.36 606.81,937.95 604.79,937.48 602.81,936.95 600.87,936.36 598.98,935.71 597.13,935.00 595.32,934.23 593.57,933.40 591.86,932.52 590.21,931.58 588.61,930.59 587.06,929.55 585.57,928.45 584.13,927.31 582.76,926.11 581.44,924.87 580.19,923.58 579.00,922.24 577.88,920.86 576.82,919.44 575.83,917.98 574.91,916.48 574.05,914.94 573.27,913.36 572.56,911.74 571.92,910.09 571.36,908.41 570.87,906.68 570.45,904.93 570.11,903.13 569.84,901.29 569.65,899.40 569.54,897.43 569.50,895.25 569.54,893.07 569.65,891.10 569.84,889.21 570.11,887.37 570.45,885.57 570.87,883.82 571.36,882.09 571.92,880.41 572.56,878.76 573.27,877.14 574.05,875.56 574.91,874.02 575.83,872.52 576.82,871.06 577.88,869.64 579.00,868.26 580.19,866.92 581.44,865.63 582.76,864.39 584.13,863.19 585.57,862.05 587.06,860.95 588.61,859.91 590.21,858.92 591.86,857.98 593.57,857.10 595.32,856.27 597.13,855.50 598.98,854.79 600.87,854.14 602.81,853.55 604.79,853.02 606.81,852.55 608.88,852.14 610.99,851.79 613.15,851.51 615.35,851.29 617.62,851.13 619.99,851.03 622.60,851.00 625.21,851.03 627.58,851.13 629.85,851.29 632.05,851.51 634.21,851.79 636.32,852.14 638.39,852.55 640.41,853.02 642.39,853.55 644.33,854.14 646.22,854.79 648.07,855.50 649.88,856.27 651.63,857.10 653.34,857.98 654.99,858.92 656.59,859.91 658.14,860.95 659.63,862.05 661.07,863.19 662.44,864.39 663.76,865.63 665.01,866.92 666.20,868.26 667.32,869.64 668.38,871.06 669.37,872.52 670.29,874.02 671.15,875.56 671.93,877.14 672.64,878.76 673.28,880.41 673.84,882.09 674.33,883.82 674.75,885.57 675.09,887.37 675.36,889.21 675.55,891.10 675.66,893.07" stroke="#444" stroke-width="1" fill="none" />
<path d="M648.6,874.75 Q660.3,874.75 660.3,884 V906 Q660.3,916 648.6,916" stroke="#333" stroke-width="1" fill="none" />
<path d="M648.6,874.75 C632,875.5 619,879 613.5,886 Q609.6,895.4 613.5,904.5 C619,911.5 632,915.3 648.6,916" stroke="#444" stroke-width="1" fill="none" />
<path d="M649,882.3 L619.75,886.75 Q611.9,889 611.9,895.5 Q611.9,902 619.75,904.4 L649,908.8" stroke="#444" stroke-width="1" fill="none" />
<path d="M647.1,882.3 Q642,895.5 647.1,908.8" stroke="#444" stroke-width="1" fill="none" />
<path d="M649,882.3 Q657.6,884 657.6,895.5 Q657.6,907 649,908.8" stroke="#444" stroke-width="1" fill="none" />
<path d="M581,926 Q579.5,931 584,934.5" stroke="#444" stroke-width="1" fill="none" />
<line x1="534.2" y1="842.4" x2="534.2" y2="948.2" stroke="#333" stroke-width="1" />
<polygon points="534.2,842.4 533,848 535.4,848" stroke="#222" stroke-width="0" fill="#222" stroke-linejoin="round" />
<polygon points="534.2,948.2 533,942.6 535.4,942.6" stroke="#222" stroke-width="0" fill="#222" stroke-linejoin="round" />
<line x1="534.2" y1="842.5" x2="619.3" y2="842.5" stroke="#333" stroke-width="1" />
<line x1="534.2" y1="948.25" x2="619.3" y2="948.25" stroke="#333" stroke-width="1" />
<line x1="545.25" y1="808" x2="545.25" y2="895" stroke="#333" stroke-width="1" />
<line x1="563.6" y1="808" x2="563.6" y2="892" stroke="#333" stroke-width="1" />
<line x1="679.7" y1="808" x2="679.7" y2="889" stroke="#333" stroke-width="1" />
<line x1="545.25" y1="816.4" x2="679.7" y2="816.4" stroke="#333" stroke-width="1" />
<polygon points="545.25,816.40 550.25,814.80 550.25,818.00" fill="#222"/>
<polygon points="563.60,816.40 558.60,814.80 558.60,818.00" fill="#222"/>
<polygon points="563.60,816.40 568.60,814.80 568.60,818.00" fill="#222"/>
<polygon points="679.70,816.40 674.70,814.80 674.70,818.00" fill="#222"/>
<text x="547.47" y="814.54" font-size="12.57" textLength="14.86" lengthAdjust="spacingAndGlyphs" fill="#1e2a3a" >50</text>
<text x="610.68" y="814.54" font-size="12.57" textLength="22.86" lengthAdjust="spacingAndGlyphs" fill="#1e2a3a" >300</text>
<line x1="714.7" y1="808" x2="714.7" y2="857" stroke="#333" stroke-width="1" />
<line x1="734.3" y1="808" x2="734.3" y2="826" stroke="#333" stroke-width="1" />
<line x1="710" y1="816.4" x2="738" y2="816.4" stroke="#333" stroke-width="1" />
<polygon points="714.70,816.40 709.70,814.80 709.70,818.00" fill="#222"/>
<polygon points="734.30,816.40 739.30,814.80 739.30,818.00" fill="#222"/>
<text x="716.42" y="814.54" font-size="12.57" textLength="16.15" lengthAdjust="spacingAndGlyphs" fill="#1e2a3a" >50</text>
<circle cx="714.7" cy="860" r="2.8" stroke="#333" stroke-width="1" fill="none" />
<circle cx="714.7" cy="929.6" r="2.8" stroke="#333" stroke-width="1" fill="none" />
<line x1="701" y1="860" x2="712" y2="860" stroke="#333" stroke-width="1" />
<line x1="701" y1="929.6" x2="712" y2="929.6" stroke="#333" stroke-width="1" />
<line x1="706.7" y1="860" x2="706.7" y2="929.6" stroke="#333" stroke-width="1" />
<polygon points="706.70,860.00 705.10,865.00 708.30,865.00" fill="#222"/>
<polygon points="706.70,929.60 705.10,924.60 708.30,924.60" fill="#222"/>
<text transform="translate(702.94,905.00) rotate(-90)" x="-1.02" y="0" font-size="12.14" textLength="22.24" lengthAdjust="spacingAndGlyphs" fill="#1e2a3a" >180</text>
<polyline points="720.5,917.6 703.2,952 676.8,952" stroke="#333" stroke-width="1" fill="none" stroke-linejoin="round" />
<text x="676.34" y="948.63" font-size="13.14" textLength="25.22" lengthAdjust="spacingAndGlyphs" fill="#1e2a3a" >Ø15</text>
<line x1="582.75" y1="874.75" x2="648.6" y2="874.75" stroke="#333" stroke-width="1" />
<line x1="582.75" y1="916" x2="648.6" y2="916" stroke="#333" stroke-width="1" />
<line x1="587.7" y1="874.75" x2="587.7" y2="916" stroke="#333" stroke-width="1" />
<polygon points="587.70,874.75 586.20,879.75 589.20,879.75" fill="#222"/>
<polygon points="587.70,916.00 586.20,911.00 589.20,911.00" fill="#222"/>
<text transform="translate(584.93,906.25) rotate(-90)" x="-1.03" y="0" font-size="13.93" textLength="22.56" lengthAdjust="spacingAndGlyphs" fill="#1e2a3a" >100</text>
<line x1="600.75" y1="882.3" x2="649" y2="882.3" stroke="#333" stroke-width="1" />
<line x1="600.75" y1="908.8" x2="649" y2="908.8" stroke="#333" stroke-width="1" />
<line x1="605.5" y1="881.8" x2="605.5" y2="908.8" stroke="#333" stroke-width="1" />
<polygon points="605.50,881.80 604.00,886.80 607.00,886.80" fill="#222"/>
<polygon points="605.50,908.80 604.00,903.80 607.00,903.80" fill="#222"/>
<text transform="translate(602.94,901.75) rotate(-90)" x="-0.57" y="0" font-size="12.86" textLength="14.58" lengthAdjust="spacingAndGlyphs" fill="#1e2a3a" >80</text>
<line x1="609.3" y1="896" x2="609.3" y2="934.75" stroke="#333" stroke-width="1" />
<line x1="660.45" y1="900" x2="660.45" y2="936.25" stroke="#333" stroke-width="1" />
<line x1="609.3" y1="930.25" x2="660.45" y2="930.25" stroke="#333" stroke-width="1" />
<polygon points="609.30,930.25 614.30,928.75 614.30,931.75" fill="#222"/>
<polygon points="660.45,930.25 655.45,928.75 655.45,931.75" fill="#222"/>
<text x="624.43" y="927.94" font-size="12.86" textLength="23.36" lengthAdjust="spacingAndGlyphs" fill="#1e2a3a" >130</text>
</svg></body></html>
